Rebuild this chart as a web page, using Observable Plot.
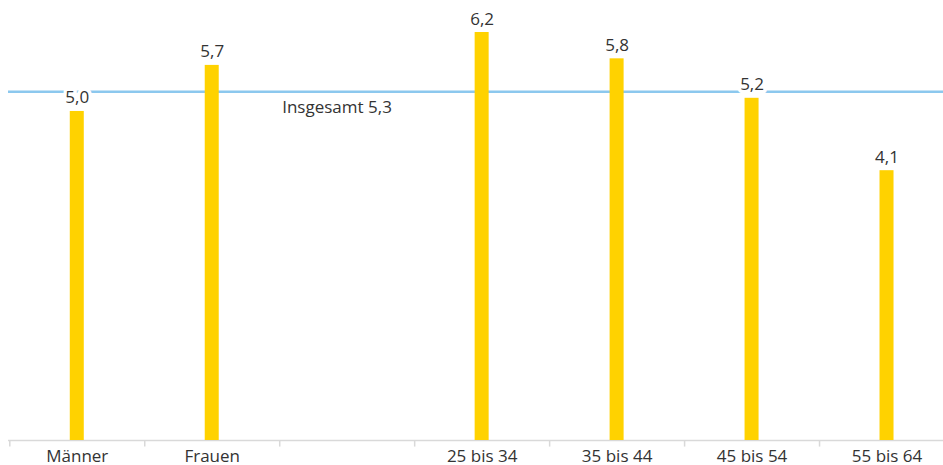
<!DOCTYPE html>
<html><head><meta charset="utf-8">
<script src="https://cdn.jsdelivr.net/npm/d3@7"></script>
<script src="https://cdn.jsdelivr.net/npm/@observablehq/plot@0.6"></script>
<style>body{margin:0;background:#fff;}</style>
</head><body><div id="chart"></div>
<script>
const categories = ["Männer", "Frauen", " ", "25 bis 34", "35 bis 44", "45 bis 54", "55 bis 64"];
const values = [5.0, 5.7, null, 6.2, 5.8, 5.2, 4.1];
const valueLabels = ["5,0", "5,7", "", "6,2", "5,8", "5,2", "4,1"];
const totalValue = 5.3;
const totalLabel = "Insgesamt 5,3";

const data = categories.map((c, i) => ({cat: c, value: values[i], label: valueLabels[i]}));
const bars = data.filter(d => d.value != null);

const W = 943, H = 465;
const xLeft = 9.3, xRight = 954;
const band = (xRight - xLeft) / categories.length;

const chart = Plot.plot({
  width: W,
  height: H,
  marginLeft: 8,
  marginRight: 0,
  marginTop: 0,
  marginBottom: 25,
  style: {fontFamily: "'Open Sans', sans-serif", fontSize: "17px", color: "#333", background: "#fff", overflow: "visible"},
  x: {domain: categories, range: [xLeft, xRight], padding: 0, round: false, axis: null},
  y: {domain: [0, 6.2], range: [440, 32], axis: null},
  marks: [
    Plot.ruleY([0], {stroke: "#d9d9d9", strokeWidth: 1.5}),
    Plot.ruleX(categories, {x: d => d, y1: 0, y2: -0.1, dx: -band / 2, stroke: "#d9d9d9", strokeWidth: 1.5}),
    Plot.ruleY([totalValue], {stroke: "#8cc8ee", strokeWidth: 2.6}),
    Plot.barY(bars, {x: "cat", y: "value", fill: "#ffd200", insetLeft: (band - 14) / 2, insetRight: (band - 14) / 2}),
    Plot.text(bars, {x: "cat", y: "value", text: "label", lineAnchor: "bottom", dy: -8, fill: "#333", stroke: "white", strokeWidth: 7, fontSize: 17}),
    Plot.text([totalLabel], {x: () => " ", y: () => totalValue, text: d => d, textAnchor: "start", lineAnchor: "bottom", dx: -65, dy: 21, fill: "#333", fontSize: 17}),
    Plot.text(categories, {x: d => d, y: () => 0, text: d => d.trim(), lineAnchor: "bottom", dy: 21, fill: "#333", fontSize: 17})
  ]
});
document.getElementById("chart").appendChild(chart);
</script>
</body></html>
